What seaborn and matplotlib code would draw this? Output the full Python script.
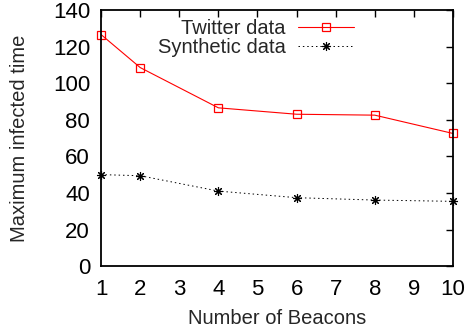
import matplotlib
matplotlib.use("Agg")
import matplotlib.pyplot as plt
import seaborn as sns
import pandas as pd

beacons = [1, 2, 4, 6, 8, 10]
twitter = [126.5, 108.5, 86.5, 83.0, 82.5, 72.5]
synthetic = [50.0, 49.4, 41.0, 37.4, 36.1, 35.4]
series_names = ["Twitter data", "Synthetic data"]
x_ticks = list(range(1, 11))
y_ticks = list(range(0, 141, 20))

sns.set_theme(style="white")
plt.rcParams['font.family'] = ['Liberation Sans', 'DejaVu Sans']
plt.rcParams['font.size'] = 14.5

df = pd.DataFrame({
    "x": beacons * 2,
    "y": twitter + synthetic,
    "series": [series_names[0]] * len(beacons) + [series_names[1]] * len(beacons),
})

fig = plt.figure(figsize=(4.66, 3.31), dpi=100)
ax = fig.add_axes([0.217, 0.196, 0.755, 0.774])

sns.lineplot(data=df[df.series == series_names[0]], x="x", y="y", ax=ax,
             color="#ff0000", lw=0.8, marker="s", markersize=6,
             markerfacecolor="none", markeredgecolor="#ff0000", markeredgewidth=0.9,
             label=series_names[0], clip_on=False)
sns.lineplot(data=df[df.series == series_names[1]], x="x", y="y", ax=ax,
             color="black", lw=0.7, linestyle=(0, (1.5, 3)), marker=(8, 2, 0), markersize=6.5,
             markeredgecolor="black", markeredgewidth=0.8,
             label=series_names[1], clip_on=False)

ax.set_xlim(1, 10)
ax.set_ylim(0, 140)
ax.set_xticks(x_ticks)
ax.set_yticks(y_ticks)
ax.tick_params(direction="in", length=5, width=1, top=True, right=True,
               labelsize=16, colors="black")
ax.tick_params(axis="x", pad=9)
ax.tick_params(axis="y", pad=8)
for s in ax.spines.values():
    s.set_color("black")
    s.set_linewidth(1.3)
ax.set_xlabel("Number of Beacons", fontsize=14.5, labelpad=6.5)
ax.set_ylabel("Maximum infected time", fontsize=14.5, labelpad=17)
ax.grid(False)

leg = ax.legend(loc="upper right", frameon=False, markerfirst=False, fontsize=14.5,
                handlelength=2.8, handletextpad=0.6, borderpad=0, borderaxespad=0,
                labelspacing=0.0, bbox_to_anchor=(0.719, 0.965))

fig.savefig("out.png", dpi=100)
